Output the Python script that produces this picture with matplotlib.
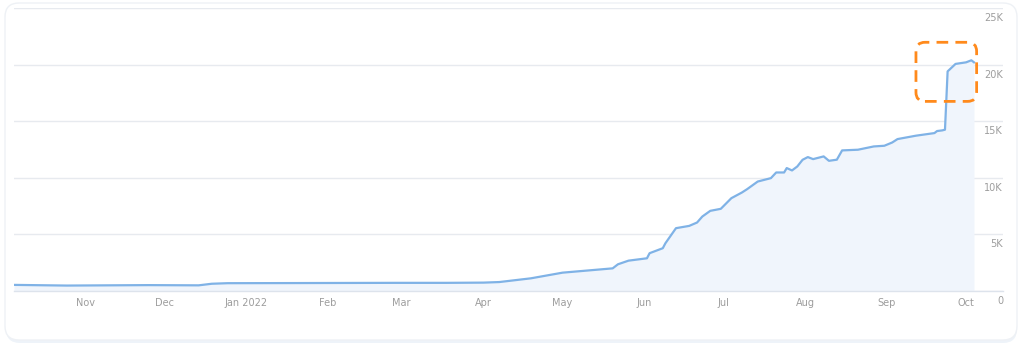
#Growth curve with highlighted jump
import matplotlib
matplotlib.use('Agg')
import matplotlib.pyplot as plt
import matplotlib.dates as mdates
from matplotlib.patches import FancyBboxPatch
from matplotlib.transforms import IdentityTransform, blended_transform_factory, offset_copy
import numpy as np
import pandas as pd

#data
dates = ['2021-10-05', '2021-10-25', '2021-11-25', '2021-12-14', '2021-12-19',
         '2021-12-25', '2022-01-18', '2022-02-27', '2022-03-18', '2022-04-01',
         '2022-04-07', '2022-04-19', '2022-05-01', '2022-05-20', '2022-05-22',
         '2022-05-26', '2022-06-02', '2022-06-03', '2022-06-08', '2022-06-09',
         '2022-06-13', '2022-06-18', '2022-06-21', '2022-06-23', '2022-06-26',
         '2022-06-30', '2022-07-04', '2022-07-08', '2022-07-10', '2022-07-14',
         '2022-07-19', '2022-07-21', '2022-07-24', '2022-07-25', '2022-07-27',
         '2022-07-29', '2022-07-31', '2022-08-02', '2022-08-04', '2022-08-08',
         '2022-08-10', '2022-08-13', '2022-08-15', '2022-08-21', '2022-08-27',
         '2022-08-31', '2022-09-03', '2022-09-05', '2022-09-12', '2022-09-19',
         '2022-09-20', '2022-09-22', '2022-09-23', '2022-09-24', '2022-09-27',
         '2022-10-01', '2022-10-03', '2022-10-04']
values = [540, 480, 520, 500, 640, 690, 700, 720, 720, 740,
          790, 1120, 1620, 2000, 2360, 2680, 2890, 3340, 3780, 4220,
          5550, 5750, 6050, 6580, 7080, 7260, 8200, 8700, 9000, 9670,
          9970, 10470, 10470, 10860, 10650, 11000, 11590, 11830, 11650, 11890,
          11500, 11600, 12420, 12480, 12770, 12830, 13120, 13420, 13720, 13950,
          14130, 14190, 14250, 19400, 20060, 20200, 20380, 20200]

month_ticks = ['2021-11-01', '2021-12-01', '2022-01-01', '2022-02-01', '2022-03-01',
               '2022-04-01', '2022-05-01', '2022-06-01', '2022-07-01', '2022-08-01',
               '2022-09-01', '2022-10-01']
month_labels = ['Nov', 'Dec', 'Jan 2022', 'Feb', 'Mar', 'Apr', 'May', 'Jun',
                'Jul', 'Aug', 'Sep', 'Oct']
y_ticks = [0, 5000, 10000, 15000, 20000, 25000]
y_labels = ['0', '5K', '10K', '15K', '20K', '25K']

#highlight box around the jump (data coords)
box_x = ['2022-09-12', '2022-10-05']
box_y = [16750, 21970]

W, H = 1024, 347
line_col = '#7fb2e6'
fill_col = '#f0f5fc'
grid_col = '#e7eaef'
text_col = '#9d9d9d'

fig = plt.figure(figsize=(W/100., H/100.), dpi=100)

#card background with faint shadow
shadow = FancyBboxPatch((6, 4), 1011, 334, boxstyle='round,pad=0,rounding_size=14',
                        transform=IdentityTransform(), facecolor='#eef3f9',
                        edgecolor='none', zorder=-2)
card = FancyBboxPatch((5, 7), 1012, 337, boxstyle='round,pad=0,rounding_size=14',
                      transform=IdentityTransform(), facecolor='white',
                      edgecolor='#eef1f5', linewidth=1.0, zorder=-1)
fig.patches.extend([shadow, card])

ax = fig.add_axes([14./W, (H-291.)/H, (1003.-14.)/W, (291.-8.)/H])
ax.patch.set_alpha(0)

x = pd.to_datetime(dates)
ax.fill_between(x, 0, values, color=fill_col, linewidth=0, zorder=1)
ax.plot(x, values, color=line_col, linewidth=1.6, zorder=3)

ax.set_xlim(pd.Timestamp('2021-10-05'), pd.Timestamp('2022-10-15'))
ax.set_ylim(0, 25000)

#grid and axes styling
for s in ['top', 'right', 'left']:
    ax.spines[s].set_visible(False)
ax.spines['bottom'].set_color('#dde3ec')
ax.spines['bottom'].set_linewidth(1.0)
ax.set_yticks(y_ticks)
ax.set_yticklabels([])
ax.tick_params(axis='y', length=0)
ax.yaxis.grid(True, color=grid_col, linewidth=1.0)
ax.set_axisbelow(True)

ax.set_xticks(pd.to_datetime(month_ticks))
ax.set_xticklabels(month_labels)
ax.tick_params(axis='x', direction='in', length=4, width=0.8, color='#d5dbe3',
               labelsize=7, labelcolor=text_col, pad=5)

#y labels sit just under each gridline on the right
trans = blended_transform_factory(ax.transAxes, ax.transData)
trans = offset_copy(trans, fig=fig, x=0, y=-5, units='dots')
for val, lab in zip(y_ticks, y_labels):
    ax.text(1.0, val, lab, transform=trans, ha='right', va='top',
            fontsize=7, color=text_col)

#orange dashed rounded box
fig.canvas.draw()
(x0, y0) = ax.transData.transform((mdates.date2num(pd.Timestamp(box_x[0])), box_y[0]))
(x1, y1) = ax.transData.transform((mdates.date2num(pd.Timestamp(box_x[1])), box_y[1]))
hl = FancyBboxPatch((x0, y0), x1-x0, y1-y0, boxstyle='round,pad=0,rounding_size=9',
                    transform=IdentityTransform(), facecolor='none',
                    edgecolor='#ff8a1c', linewidth=2.0,
                    linestyle=(0, (4.2, 2.6)), zorder=5)
fig.patches.append(hl)

plt.savefig('out.png', dpi=100)
